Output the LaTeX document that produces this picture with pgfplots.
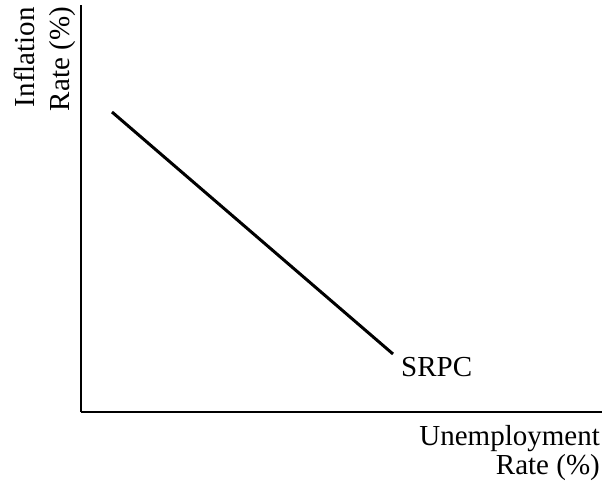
\documentclass[border=0pt]{standalone}
\usepackage{fontspec}
\setmainfont{Liberation Serif}
\usepackage{pgfplots}
\pgfplotsset{compat=1.18}
\begin{document}
\begin{tikzpicture}[x=1pt,y=1pt,font=\fontsize{29}{31}\selectfont]
\path[use as bounding box] (0,0) rectangle (602,482);
\begin{axis}[
  at={(81pt,70pt)}, anchor=south west,
  scale only axis, width=521pt, height=407pt,
  xmin=0, xmax=521, ymin=0, ymax=407,
  axis lines*=left,
  axis line style={line width=2.4pt},
  xtick=\empty, ytick=\empty,
  clip=false,
]
\addplot[black, line width=3pt] coordinates {(31,300) (312,58)};
\node[anchor=base west, inner sep=0pt] at (axis cs:320,36) {SRPC};
\end{axis}
\node[rotate=90, anchor=base east, inner sep=0pt] at (35,475) {Inflation};
\node[rotate=90, anchor=base east, inner sep=0pt] at (69,475) {Rate (\%)};
\node[anchor=base east, inner sep=0pt] at (600,37) {Unemployment};
\node[anchor=base east, inner sep=0pt] at (600,8) {Rate (\%)};
\end{tikzpicture}
\end{document}
